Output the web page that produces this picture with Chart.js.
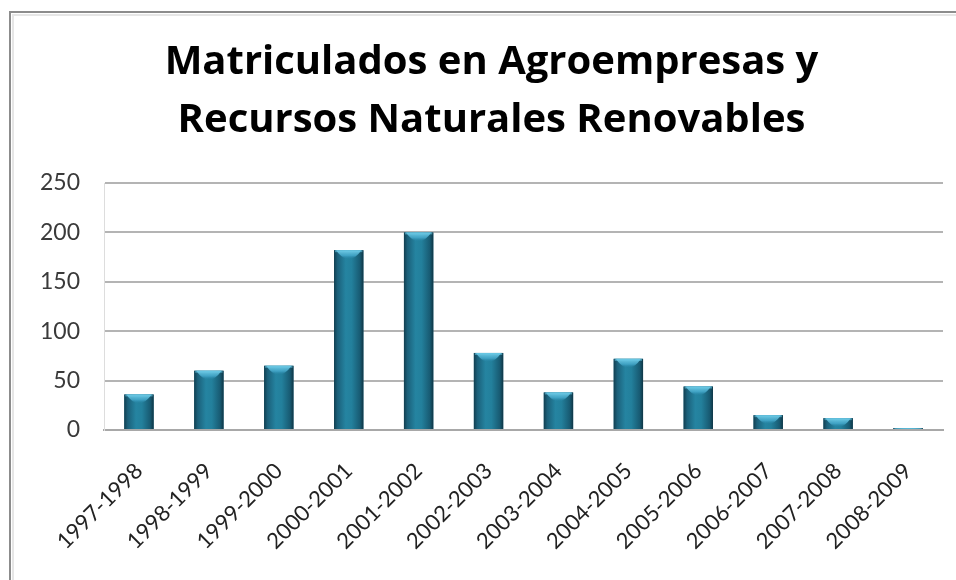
<!DOCTYPE html>
<html>
<head>
<meta charset="utf-8">
<script src="https://cdn.jsdelivr.net/npm/chart.js@4.4.1/dist/chart.umd.min.js"></script>
<style>
  html, body { margin: 0; padding: 0; background: #ffffff; }
  #wrap { position: relative; width: 956px; height: 580px; }
</style>
</head>
<body>
<div id="wrap"><canvas id="c" width="956" height="580"></canvas></div>
<script>
// ---- Data ----
const titleLines = ['Matriculados en Agroempresas y', 'Recursos Naturales Renovables'];
const categories = ['1997-1998', '1998-1999', '1999-2000', '2000-2001', '2001-2002', '2002-2003',
                    '2003-2004', '2004-2005', '2005-2006', '2006-2007', '2007-2008', '2008-2009'];
const matriculados = [36, 60, 65, 182, 200, 78, 38, 72, 44, 15, 12, 2];
const yMin = 0;
const yMax = 250;
const yStep = 50;

// ---- Plugins (decoration only) ----
const frame = {
  id: 'frame',
  beforeDraw(chart) {
    const ctx = chart.ctx;
    ctx.save();
    ctx.fillStyle = '#ffffff';
    ctx.fillRect(0, 0, chart.width, chart.height);
    ctx.strokeStyle = '#8c8c8c';
    ctx.lineWidth = 2;
    ctx.beginPath();
    ctx.moveTo(10, chart.height);
    ctx.lineTo(10, 12);
    ctx.lineTo(chart.width, 12);
    ctx.stroke();
    ctx.strokeStyle = '#e6e6e6';
    ctx.lineWidth = 2;
    ctx.beginPath();
    ctx.moveTo(13, chart.height);
    ctx.lineTo(13, 15);
    ctx.lineTo(chart.width, 15);
    ctx.stroke();
    ctx.restore();
  }
};

const barShade = {
  id: 'barShade',
  afterDatasetsDraw(chart) {
    const ctx = chart.ctx;
    const meta = chart.getDatasetMeta(0);
    ctx.save();
    meta.data.forEach(el => {
      const p = el.getProps(['x', 'y', 'base', 'width'], true);
      const l = p.x - p.width / 2, r = p.x + p.width / 2;
      const top = Math.min(p.y, p.base), h = Math.abs(p.base - p.y);
      if (h <= 0) return;
      const g = ctx.createLinearGradient(l, 0, r, 0);
      g.addColorStop(0, '#123f50');
      g.addColorStop(0.12, '#1b607a');
      g.addColorStop(0.4, '#2584a1');
      g.addColorStop(0.6, '#23809c');
      g.addColorStop(0.88, '#185b73');
      g.addColorStop(1, '#0f3645');
      ctx.fillStyle = g;
      ctx.fillRect(l, top, p.width, h);
      // top highlight cap
      const capH = Math.min(9, h);
      const cg = ctx.createLinearGradient(0, top, 0, top + capH);
      cg.addColorStop(0, 'rgba(120,210,235,0.95)');
      cg.addColorStop(0.6, 'rgba(70,170,205,0.8)');
      cg.addColorStop(1, 'rgba(40,130,165,0)');
      ctx.fillStyle = cg;
      ctx.beginPath();
      ctx.moveTo(l + 2, top);
      ctx.lineTo(r - 2, top);
      ctx.quadraticCurveTo(p.x, top + capH * 2, l + 2, top);
      ctx.fill();
      ctx.fillStyle = 'rgba(100,195,225,0.6)';
      ctx.fillRect(l + 1, top, p.width - 2, Math.min(2, h));
    });
    ctx.restore();
  }
};

new Chart(document.getElementById('c'), {
  type: 'bar',
  data: {
    labels: categories,
    datasets: [{
      label: 'Matriculados',
      data: matriculados,
      backgroundColor: '#1f6f8b',
      borderWidth: 0,
      barPercentage: 0.42,
      categoryPercentage: 1.0
    }]
  },
  options: {
    responsive: false,
    animation: false,
    devicePixelRatio: 1,
    layout: { padding: { left: 40, right: 13, top: 0, bottom: 0 } },
    plugins: {
      legend: { display: false },
      tooltip: { enabled: false },
      title: {
        display: true,
        text: titleLines,
        color: '#000000',
        font: { family: 'Open Sans', size: 40, weight: 'bold', lineHeight: 1.45 },
        padding: { top: 34, bottom: 33 }
      }
    },
    scales: {
      x: {
        grid: { display: false, drawTicks: false },
        border: { display: true, color: '#a8a8a8', width: 2 },
        ticks: {
          color: '#222222',
          font: { family: 'Lato', size: 22 },
          minRotation: 45,
          maxRotation: 45,
          autoSkip: false,
          padding: 28
        },
        afterFit(scale) { scale.height = 150; }
      },
      y: {
        min: yMin,
        max: yMax,
        ticks: {
          stepSize: yStep,
          color: '#3a3a3a',
          font: { family: 'Lato', size: 23 },
          padding: 24
        },
        grid: { color: '#b4b4b4', lineWidth: 2, drawTicks: false },
        border: { display: true, color: '#dddddd', width: 1 },
        afterFit(scale) { scale.width = 64; }
      }
    }
  },
  plugins: [frame, barShade]
});
</script>
</body>
</html>
